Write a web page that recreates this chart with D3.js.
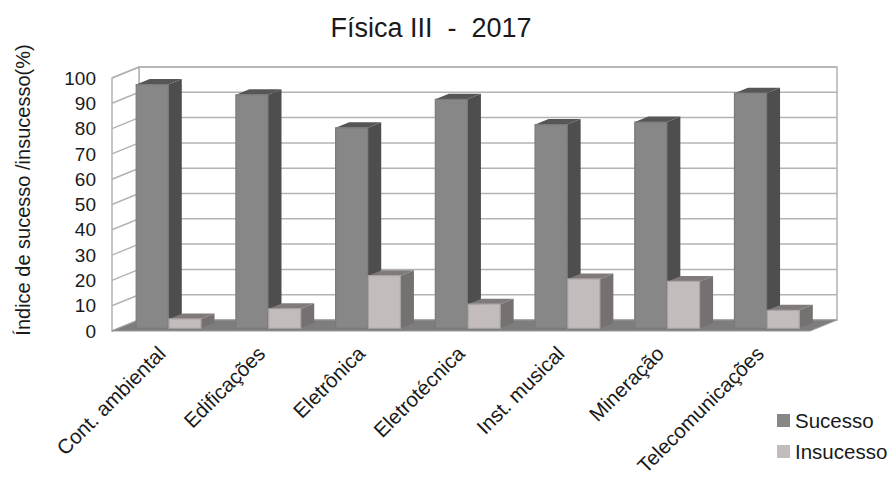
<!DOCTYPE html>
<html><head><meta charset="utf-8">
<script src="https://cdn.jsdelivr.net/npm/d3@7"></script>
<style>body{margin:0;background:#fff}svg{display:block}text{font-family:"Liberation Sans",Arial,sans-serif;fill:#1a1a1a}</style>
</head><body>
<script>
const categories = ["Cont. ambiental","Edificações","Eletrônica","Eletrotécnica","Inst. musical","Mineração","Telecomunicações"];
const seriesNames = ["Sucesso","Insucesso"];
const sucesso = [96.3, 92.3, 79.2, 90.5, 80.5, 81.5, 92.9];
const insucesso = [3.7, 7.7, 20.8, 9.5, 19.5, 18.5, 7.1];
const yTicks = [0,10,20,30,40,50,60,70,80,90,100];
const title = "Física III  -  2017";
const yLabel = "Índice de sucesso /insucesso(%)";

const W = 893, H = 479;
const svg = d3.select("body").append("svg").attr("width", W).attr("height", H);

const DX = 27, DY = -11;
const x = d3.scaleBand().domain(categories).range([112, 810]);
const bw = x.bandwidth();
const xs = d3.scaleBand().domain(seriesNames).range([0.175*bw, 0.825*bw]).paddingInner(0.02);
const y = d3.scaleLinear().domain([0,100]).range([331, 78]);
const P = (px, v, d) => [px + d*DX, y(v) + d*DY];
const poly = pts => pts.map(p => p.join(",")).join(" ");

const colors = {
  Sucesso: {front:"#878787", side:"#4e4e4e", top:"#565656", stroke:"#7a7a7a"},
  Insucesso: {front:"#c3bcbc", side:"#767171", top:"#807a7a", stroke:"#aaa3a3"}
};

// back wall
const x0 = x.range()[0], x1 = x.range()[1];
svg.append("polygon").attr("points", poly([P(x0,100,1),P(x1,100,1),P(x1,0,1),P(x0,0,1)]))
  .attr("fill","#fff").attr("stroke","#b3b3b3").attr("stroke-width",1.5);
// left side wall
svg.append("polygon").attr("points", poly([P(x0,100,0),P(x0,100,1),P(x0,0,1),P(x0,0,0)]))
  .attr("fill","#fff").attr("stroke","#b3b3b3").attr("stroke-width",1.5);
// gridlines
yTicks.forEach(v => {
  svg.append("line").attr("x1",P(x0,v,1)[0]).attr("y1",P(x0,v,1)[1]).attr("x2",P(x1,v,1)[0]).attr("y2",P(x1,v,1)[1])
    .attr("stroke","#b3b3b3").attr("stroke-width",1.5);
  svg.append("line").attr("x1",P(x0,v,0)[0]).attr("y1",P(x0,v,0)[1]).attr("x2",P(x0,v,1)[0]).attr("y2",P(x0,v,1)[1])
    .attr("stroke","#b3b3b3").attr("stroke-width",1.5);
});
// floor
svg.append("polygon").attr("points", poly([P(x0,0,0),P(x1,0,0),P(x1,0,1),P(x0,0,1)]))
  .attr("fill","#7d7d7d").attr("stroke","#9a9a9a").attr("stroke-width",1);

// bars
const data = categories.map((c,i) => ({c, vals:[{s:"Sucesso",v:sucesso[i]},{s:"Insucesso",v:insucesso[i]}]}));
const dF = 0.25, dB = 0.75;
data.forEach(d => {
  d.vals.forEach(b => {
    const bx0 = x(d.c) + xs(b.s), bx1 = bx0 + xs.bandwidth();
    const col = colors[b.s];
    const g = svg.append("g");
    g.append("polygon").attr("points", poly([P(bx1,b.v,dF),P(bx1,b.v,dB),P(bx1,0,dB),P(bx1,0,dF)])).attr("fill",col.side);
    g.append("polygon").attr("points", poly([P(bx0,b.v,dF),P(bx1,b.v,dF),P(bx1,b.v,dB),P(bx0,b.v,dB)])).attr("fill",col.top);
    g.append("polygon").attr("points", poly([P(bx0,b.v,dF),P(bx1,b.v,dF),P(bx1,0,dF),P(bx0,0,dF)]))
      .attr("fill",col.front).attr("stroke",col.stroke).attr("stroke-width",1.2);
  });
});

// y tick labels
svg.selectAll("text.yt").data(yTicks).enter().append("text").attr("class","yt")
  .attr("x",96).attr("y",v=>y(v)).attr("dy","0.35em").attr("text-anchor","end")
  .style("font-size","19px").text(v=>v);

// y label
svg.append("text").attr("transform","translate(30,190) rotate(-90)").attr("text-anchor","middle")
  .style("font-size","20px").text(yLabel);

// category labels
svg.selectAll("text.xl").data(categories).enter().append("text").attr("class","xl")
  .attr("transform", c => `translate(${x(c)+bw/2+5},${355}) rotate(-45)`)
  .attr("text-anchor","end").style("font-size","20.5px").text(c=>c);

// title
svg.append("text").attr("x",431).attr("y",37).attr("text-anchor","middle")
  .style("font-size","27px").style("white-space","pre").text(title);

// legend
seriesNames.forEach((s,i) => {
  svg.append("rect").attr("x",777).attr("y",414+i*31).attr("width",13).attr("height",13).attr("fill",colors[s].front);
  svg.append("text").attr("x",795).attr("y",428+i*31).style("font-size","20.5px").text(s);
});
</script>
</body></html>
